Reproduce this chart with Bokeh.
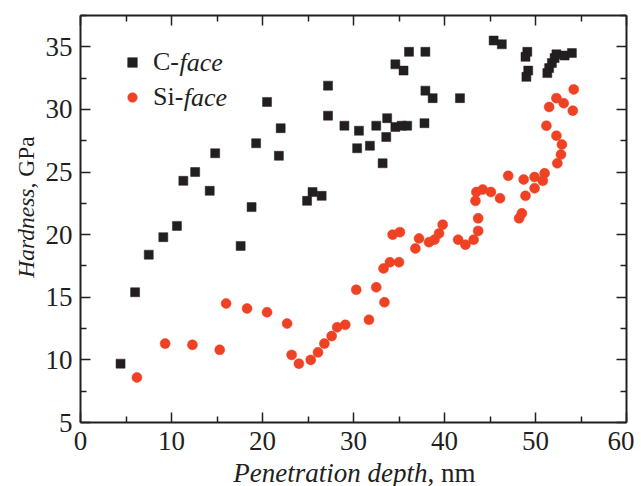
from math import pi
from bokeh.plotting import figure
from bokeh.models import (Range1d, LinearAxis, FixedTicker, Legend, LegendItem,
                          Label, CustomJSTickFormatter)
from bokeh.embed import file_html
from bokeh.resources import INLINE

# ---- data ----
c_depth = [4.4, 6.0, 7.5, 9.1, 10.6, 11.3, 12.6, 14.2, 14.8, 17.6, 18.8, 19.3, 20.5,
           21.8, 22.0, 24.9, 25.5, 26.5, 27.2, 27.2, 29.0, 30.4, 30.6, 31.8, 32.5, 33.2,
           33.6, 33.7, 34.6, 34.6, 35.3, 35.9, 35.5, 36.1, 37.9, 37.8, 37.9, 38.7, 41.7,
           45.4, 46.3, 49.1, 48.9, 49.2, 49.0, 51.3, 51.5, 51.8, 52.1, 52.3, 53.2, 54.0]
c_hard = [9.7, 15.4, 18.4, 19.8, 20.7, 24.3, 25.0, 23.5, 26.5, 19.1, 22.2, 27.3, 30.6,
          26.3, 28.5, 22.7, 23.4, 23.1, 31.9, 29.5, 28.7, 26.9, 28.3, 27.1, 28.7, 25.7,
          27.8, 29.3, 33.6, 28.6, 28.7, 28.7, 33.1, 34.6, 34.6, 28.9, 31.5, 30.9, 30.9,
          35.5, 35.2, 34.6, 34.2, 33.1, 32.6, 32.9, 33.3, 33.7, 34.1, 34.4, 34.3, 34.5]

si_depth = [6.2, 9.3, 12.3, 15.3, 16.0, 18.3, 20.5, 22.7, 23.2, 24.0, 25.3, 26.1, 26.8,
            27.6, 28.2, 29.1, 30.3, 31.7, 32.5, 33.4, 33.3, 34.0, 35.0, 34.3, 35.1, 36.8,
            37.2, 38.3, 38.9, 39.4, 39.8, 41.5, 42.3, 43.2, 43.7, 43.7, 43.4, 43.5, 44.2,
            45.1, 46.1, 47.0, 48.2, 48.5, 48.9, 48.7, 49.9, 49.9, 50.8, 51.0, 52.4, 52.8,
            52.9, 52.3, 51.2, 51.5, 52.3, 53.1, 54.1, 54.2]
si_hard = [8.6, 11.3, 11.2, 10.8, 14.5, 14.1, 13.8, 12.9, 10.4, 9.7, 10.0, 10.6, 11.3,
           11.9, 12.6, 12.8, 15.6, 13.2, 15.8, 14.6, 17.3, 17.8, 17.8, 20.0, 20.2, 18.9,
           19.7, 19.4, 19.6, 20.1, 20.8, 19.6, 19.2, 19.6, 20.3, 21.3, 22.7, 23.4, 23.6,
           23.4, 22.9, 24.7, 21.3, 21.7, 23.1, 24.4, 23.7, 24.6, 24.3, 24.9, 25.7, 26.4,
           27.2, 27.9, 28.7, 30.2, 30.9, 30.5, 29.9, 31.6]

x_major = [0, 10, 20, 30, 40, 50, 60]
x_minor = [5, 15, 25, 35, 45, 55]
y_major = [5, 10, 15, 20, 25, 30, 35]
y_minor = [7.5, 12.5, 17.5, 22.5, 27.5, 32.5, 37.5]
X_LIM = (0, 60)
Y_LIM = (5, 37.5)

# ---- layout (pixels): the plotting box inside a frame that fills the canvas ----
W, H = 634, 486
BOX_L, BOX_R, BOX_T, BOX_B = 80, 626, 15, 422
sx = (BOX_R - BOX_L) / (X_LIM[1] - X_LIM[0])
sy = (BOX_B - BOX_T) / (Y_LIM[1] - Y_LIM[0])
x_range = Range1d(X_LIM[0] - BOX_L / sx, X_LIM[1] + (W - BOX_R) / sx)
y_range = Range1d(Y_LIM[0] - (H - BOX_B) / sy, Y_LIM[1] + BOX_T / sy)


def px2x(px):
    return X_LIM[0] + (px - BOX_L) / sx


def py2y(py):
    return Y_LIM[1] - (py - BOX_T) / sy


FONT = "Liberation Serif"
INK = "#231f20"
BLACK = "#231f20"
RED = "#ef4123"

p = figure(width=W, height=H, output_backend="svg", toolbar_location=None,
           x_range=x_range, y_range=y_range, min_border=0,
           x_axis_location=None, y_axis_location=None)
p.grid.visible = False
p.outline_line_color = None
p.background_fill_color = "white"
p.border_fill_color = "white"


def make_axis(side, loc, bounds, major, minor, labels=True, standoff=8):
    ax = LinearAxis(fixed_location=loc, bounds=bounds)
    ax.ticker = FixedTicker(ticks=major, minor_ticks=minor)
    ax.axis_line_color = INK
    ax.axis_line_width = 2
    ax.major_tick_line_color = INK
    ax.major_tick_line_width = 1.5
    ax.minor_tick_line_color = INK
    ax.minor_tick_line_width = 1.5
    ax.major_tick_in = 10
    ax.major_tick_out = 0
    ax.minor_tick_in = 6
    ax.minor_tick_out = 0
    ax.major_label_text_font = FONT
    ax.major_label_text_font_size = "27px"
    ax.major_label_text_color = INK
    ax.major_label_standoff = standoff
    if not labels:
        ax.formatter = CustomJSTickFormatter(code="return ''")
        ax.major_label_standoff = 0
    p.add_layout(ax, side)
    return ax


make_axis("below", Y_LIM[0], X_LIM, x_major, x_minor, standoff=9)
make_axis("left", X_LIM[0], Y_LIM, y_major, y_minor, standoff=8)
make_axis("above", Y_LIM[1], X_LIM, x_major, x_minor, labels=False)
make_axis("right", X_LIM[1], Y_LIM, y_major, y_minor, labels=False)

rc = p.scatter(c_depth, c_hard, marker="square", size=9,
               fill_color=BLACK, line_color=BLACK, line_width=0.5)
rs = p.scatter(si_depth, si_hard, marker="circle", size=10,
               fill_color=RED, line_color=RED, line_width=0.5)

legend = Legend(items=[LegendItem(label="C-", renderers=[rc]),
                       LegendItem(label="Si-", renderers=[rs])],
                location=(120, H - 112), padding=0, margin=0, spacing=5,
                glyph_width=24, glyph_height=30, label_height=30,
                label_standoff=9, border_line_color=None,
                background_fill_alpha=0,
                label_text_font=FONT, label_text_font_size="26px",
                label_text_color=INK)
p.add_layout(legend)

for lx, ly in [(179, 61.7), (183.3, 96.7)]:
    p.add_layout(Label(x=px2x(lx), y=py2y(ly), text="face", text_font=FONT,
                       text_font_style="italic", text_font_size="26px",
                       text_baseline="middle", text_color=INK))

# x axis title: italic + regular parts joined at one point
xs, xm = px2x(427), py2y(472)
p.add_layout(Label(x=xs, y=xm, text="Penetration depth", text_align="right",
                   text_baseline="middle", text_font=FONT,
                   text_font_style="italic", text_font_size="27px", text_color=INK))
p.add_layout(Label(x=xs, y=xm, text=", nm", text_align="left",
                   text_baseline="middle", text_font=FONT,
                   text_font_size="27px", text_color=INK))
# y axis title
ys, ym = py2y(188), px2x(25)
p.add_layout(Label(x=ym, y=ys, angle=pi / 2, text="Hardness", text_align="right",
                   text_baseline="middle", text_font=FONT,
                   text_font_style="italic", text_font_size="23.5px", text_color=INK))
p.add_layout(Label(x=ym, y=ys, angle=pi / 2, text=", GPa", text_align="left",
                   text_baseline="middle", text_font=FONT,
                   text_font_size="23.5px", text_color=INK))

open("out.html", "w").write(file_html(p, INLINE))
